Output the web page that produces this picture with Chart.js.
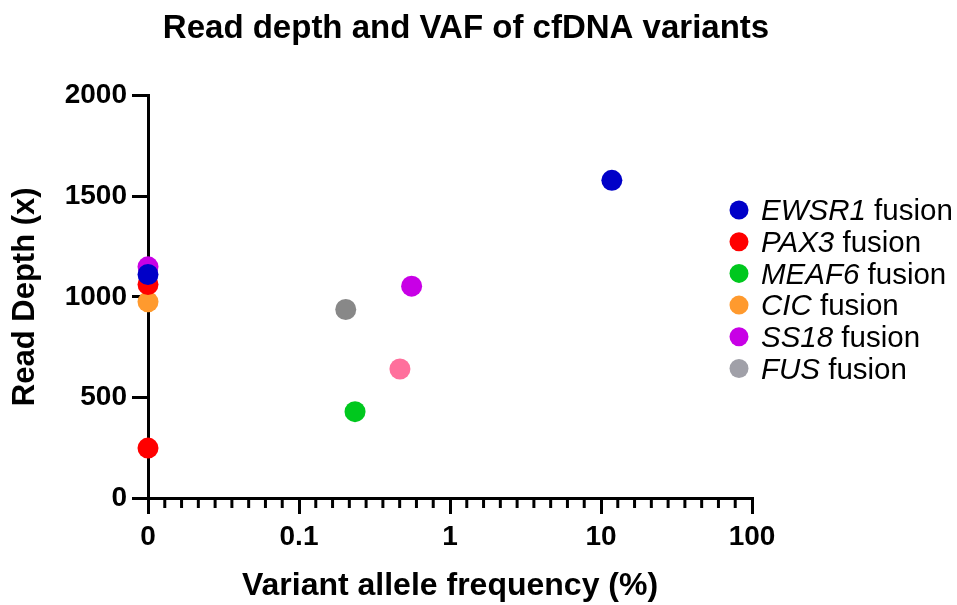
<!DOCTYPE html>
<html>
<head>
<meta charset="utf-8">
<script src="https://cdn.jsdelivr.net/npm/chart.js@4.4.1/dist/chart.umd.min.js"></script>
<style>
    body { margin: 0; background: #ffffff; }
    #caixa { width: 957px; height: 605px; }
</style>
</head>
<body>
<div id="caixa"><canvas id="grafico"></canvas></div>
<script>
// dados
const nomesGenes = ['EWSR1', 'PAX3', 'MEAF6', 'CIC', 'SS18', 'FUS', ''];
const vafSeries = [[0, 11.8], [0, 0], [0.235], [0], [0, 0.557], [0.204], [0.466]];
const profundidadeSeries = [[1111, 1579], [1061, 248], [429], [975], [1149, 1053], [937], [641]];
const ticksX = [0.01, 0.1, 1, 10, 100];
const rotulosX = ['0', '0.1', '1', '10', '100'];
const ticksY = [0, 500, 1000, 1500, 2000];

const cores = ['#0000c8', '#ff0000', '#00c81e', '#ff9a2e', '#c800e6', '#888888', '#ff6f9c'];
const coresLegenda = ['#0000c8', '#ff0000', '#00c81e', '#ff9a2e', '#c800e6', '#a0a0a8'];
const fonte = "'Liberation Sans', Arial, sans-serif";

// VAF = 0 fica no inicio do eixo log
const dadosDatasets = nomesGenes.map((nome, i) => ({
    label: nome,
    data: vafSeries[i].map((v, j) => ({ x: v === 0 ? ticksX[0] : v, y: profundidadeSeries[i][j] })),
    backgroundColor: cores[i],
    borderWidth: 0,
    pointRadius: 10.5,
    pointHoverRadius: 10.5,
    clip: false
}));

// risquinhos menores do eixo x e legenda com nome do gene em italico
const pluginExtras = {
    id: 'extras',
    afterDraw(chart) {
        const ctx = chart.ctx;
        const eixoX = chart.scales.x;
        const base = chart.chartArea.bottom;
        ctx.save();
        ctx.strokeStyle = '#000';
        ctx.lineWidth = 3;
        for (let i = 0; i < ticksX.length - 1; i++) {
            const p0 = eixoX.getPixelForValue(ticksX[i]);
            const p1 = eixoX.getPixelForValue(ticksX[i + 1]);
            for (let k = 1; k < 9; k++) {
                const px = p0 + (p1 - p0) * k / 9;
                ctx.beginPath();
                ctx.moveTo(px, base);
                ctx.lineTo(px, base + 10);
                ctx.stroke();
            }
        }

        const xBola = chart.chartArea.right - 13;
        const xTexto = xBola + 22;
        ctx.textBaseline = 'middle';
        ctx.textAlign = 'left';
        for (let i = 0; i < coresLegenda.length; i++) {
            const y = 210 + i * 31.7;
            ctx.fillStyle = coresLegenda[i];
            ctx.beginPath();
            ctx.arc(xBola, y, 9.5, 0, Math.PI * 2);
            ctx.fill();
            ctx.fillStyle = '#000';
            ctx.font = 'italic 29.5px ' + fonte;
            ctx.fillText(nomesGenes[i], xTexto, y + 2);
            const w = ctx.measureText(nomesGenes[i]).width;
            ctx.font = '29.5px ' + fonte;
            ctx.fillText(' fusion', xTexto + w, y + 2);
        }
        ctx.restore();
    }
};

const config = {
    type: 'scatter',
    data: { datasets: dadosDatasets },
    options: {
        responsive: true,
        maintainAspectRatio: false,
        animation: false,
        layout: { padding: { left: 0, right: 25, top: 0, bottom: 0 } },
        plugins: {
            legend: { display: false },
            tooltip: { enabled: false },
            title: {
                display: true,
                text: 'Read depth and VAF of cfDNA variants',
                color: '#000',
                font: { family: fonte, size: 33, weight: 'bold' },
                padding: { top: 9, bottom: 47 }
            }
        },
        scales: {
            x: {
                type: 'logarithmic',
                min: ticksX[0],
                max: ticksX[ticksX.length - 1],
                afterBuildTicks: (s) => { s.ticks = ticksX.map(v => ({ value: v })); },
                afterFit: (s) => { s.height = 107; },
                grid: { drawOnChartArea: false, drawTicks: true, tickLength: 16, lineWidth: 3, color: '#000' },
                border: { display: true, width: 3, color: '#000' },
                ticks: {
                    color: '#000',
                    padding: 6,
                    maxRotation: 0,
                    autoSkip: false,
                    font: { family: fonte, size: 28, weight: 'bold' },
                    callback: (v) => rotulosX[ticksX.indexOf(v)]
                },
                title: {
                    display: true,
                    text: 'Variant allele frequency (%)',
                    color: '#000',
                    font: { family: fonte, size: 32, weight: 'bold' },
                    padding: { top: 0, bottom: 0 }
                }
            },
            y: {
                type: 'linear',
                position: 'left',
                min: ticksY[0],
                max: ticksY[ticksY.length - 1],
                afterBuildTicks: (s) => { s.ticks = ticksY.map(v => ({ value: v })); },
                afterFit: (s) => { s.width = 148; },
                grid: { drawOnChartArea: false, drawTicks: true, tickLength: 16, lineWidth: 3, color: '#000' },
                border: { display: true, width: 3, color: '#000' },
                ticks: {
                    color: '#000',
                    padding: 5,
                    font: { family: fonte, size: 28, weight: 'bold' },
                    callback: (v) => String(v)
                },
                title: {
                    display: true,
                    text: 'Read Depth (x)',
                    color: '#000',
                    font: { family: fonte, size: 31, weight: 'bold' },
                    padding: { top: 7, bottom: 0 }
                }
            },
            espacoLegenda: {
                type: 'linear',
                position: 'right',
                display: true,
                min: 0,
                max: 1,
                grid: { display: false },
                border: { display: false },
                ticks: { display: false },
                afterFit: (s) => { s.width = 180; }
            }
        }
    },
    plugins: [pluginExtras]
};

const grafico = new Chart(document.getElementById('grafico'), config);
</script>
</body>
</html>
